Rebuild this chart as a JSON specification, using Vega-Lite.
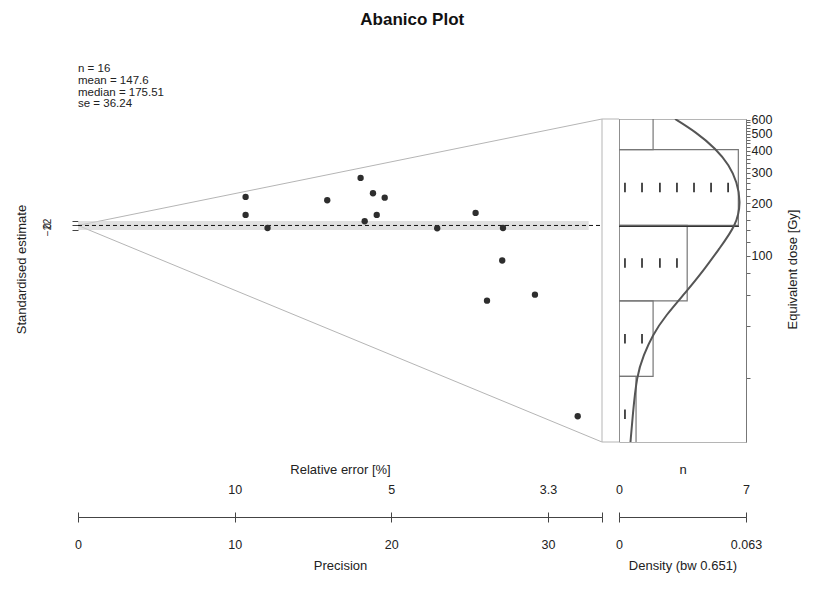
{
  "$schema": "https://vega.github.io/schema/vega-lite/v6.json",
  "background": "white",
  "padding": {"left": 15, "top": 11, "right": 5, "bottom": 5},
  "title": {"text": "Abanico Plot", "font": "Liberation Sans", "fontSize": 17, "fontWeight": "bold", "anchor": "middle", "offset": 34, "dx": 5, "color": "#111"},
  "config": {
    "view": {"stroke": null},
    "font": "Liberation Sans",
    "axis": {"labelFont": "Liberation Sans", "titleFont": "Liberation Sans", "labelFontSize": 12.5, "titleFontSize": 13, "titleFontWeight": "normal", "labelColor": "#222", "titleColor": "#222", "domainColor": "#444", "tickColor": "#444", "grid": false, "labelFlush": false, "labelOverlap": false, "labelBound": false}
  },
  "bounds": "flush",
  "spacing": 17,
  "hconcat": [
    {
      "width": 524,
      "height": 323,
      "title": {"text": ["n = 16", "mean = 147.6", "median = 175.51", "se = 36.24"], "anchor": "start", "frame": "group", "font": "Liberation Sans", "fontSize": 11.5, "fontWeight": "normal", "lineHeight": 11.8, "offset": 7, "color": "#222"},
      "layer": [
        {
          "data": {"values": [{"p": 0, "z": 0, "edge": "upper"}, {"p": 33.45, "z": 47.1, "edge": "upper"}, {"p": 0, "z": 0, "edge": "lower"}, {"p": 33.45, "z": -95.8, "edge": "lower"}]},
          "mark": {"type": "line", "color": "#b5b5b5", "strokeWidth": 1},
          "encoding": {
            "x": {"field": "p", "type": "quantitative", "scale": {"domain": [0, 33.45], "nice": false, "zero": false},
                  "axis": {"orient": "bottom", "offset": 75, "values": [0, 10, 20, 30, 33.45], "labelExpr": "datum.value > 33 ? '' : datum.label", "tickSize": 5, "labelPadding": 16, "title": "Precision", "titleY": 48, "titleBaseline": "middle"}},
            "y": {"field": "z", "type": "quantitative", "scale": {"domain": [-95.8, 47.1], "nice": false, "zero": false},
                  "axis": {"values": [-2, 0, 2], "domain": false, "tickSize": 6, "labelAngle": -90, "labelFontSize": 10, "labelPadding": 20, "title": "Standardised estimate", "titleX": -57, "titleY": 150, "titleAngle": -90, "titleBaseline": "middle"}},
            "detail": {"field": "edge"}
          }
        },
        {
          "data": {"values": [{"p": 33.45, "z": -95.8, "z2": 47.1}]},
          "mark": {"type": "rule", "color": "#b5b5b5", "strokeWidth": 1},
          "encoding": {
            "x": {"field": "p", "type": "quantitative", "scale": {"domain": [0, 33.45], "nice": false, "zero": false}, "axis": null},
            "y": {"field": "z", "type": "quantitative", "scale": {"domain": [-95.8, 47.1], "nice": false, "zero": false}, "axis": null},
            "y2": {"field": "z2"}
          }
        },
        {
          "data": {"values": [{"p": 33.45, "p2": 34.54, "z": 47.1}, {"p": 33.45, "p2": 34.54, "z": -95.8}]},
          "mark": {"type": "rule", "color": "#b5b5b5", "strokeWidth": 1},
          "encoding": {
            "x": {"field": "p", "type": "quantitative", "scale": {"domain": [0, 33.45], "nice": false, "zero": false}, "axis": null},
            "x2": {"field": "p2"},
            "y": {"field": "z", "type": "quantitative", "scale": {"domain": [-95.8, 47.1], "nice": false, "zero": false}, "axis": null}
          }
        },
        {
          "data": {"values": [{"p": 0, "p2": 32.6, "z": -2, "z2": 2}]},
          "mark": {"type": "rect", "color": "#cfcfcf", "opacity": 0.65},
          "encoding": {
            "x": {"field": "p", "type": "quantitative", "scale": {"domain": [0, 33.45], "nice": false, "zero": false}, "axis": null},
            "x2": {"field": "p2"},
            "y": {"field": "z", "type": "quantitative", "scale": {"domain": [-95.8, 47.1], "nice": false, "zero": false}, "axis": null},
            "y2": {"field": "z2"}
          }
        },
        {
          "data": {"values": [{"p": 0, "p2": 33.45, "z": 0}]},
          "mark": {"type": "rule", "color": "#111", "strokeWidth": 1, "strokeDash": [4, 3]},
          "encoding": {
            "x": {"field": "p", "type": "quantitative", "scale": {"domain": [0, 33.45], "nice": false, "zero": false}, "axis": null},
            "x2": {"field": "p2"},
            "y": {"field": "z", "type": "quantitative", "scale": {"domain": [-95.8, 47.1], "nice": false, "zero": false}, "axis": null}
          }
        },
        {
          "data": {"values": [
            {"p": 10.70, "z": 12.61}, {"p": 10.70, "z": 4.65}, {"p": 12.10, "z": -1.11}, {"p": 15.91, "z": 11.15},
            {"p": 18.04, "z": 21.02}, {"p": 18.83, "z": 14.25}, {"p": 19.58, "z": 12.30}, {"p": 19.07, "z": 4.65},
            {"p": 18.30, "z": 1.86}, {"p": 22.93, "z": -1.24}, {"p": 25.38, "z": 5.53}, {"p": 27.13, "z": -1.11},
            {"p": 27.08, "z": -15.49}, {"p": 26.11, "z": -33.27}, {"p": 29.17, "z": -30.62}, {"p": 31.90, "z": -84.42}
          ]},
          "mark": {"type": "point", "filled": true, "color": "#2e2e2e", "size": 40, "opacity": 1},
          "encoding": {
            "x": {"field": "p", "type": "quantitative", "scale": {"domain": [0, 33.45], "nice": false, "zero": false},
                  "axis": {"orient": "top", "offset": -398, "values": [0, 10, 20, 30, 33.45], "labelExpr": "datum.value == 10 ? '10' : datum.value == 20 ? '5' : datum.value == 30 ? '3.3' : ''", "tickSize": 5, "labelPadding": 16, "title": "Relative error [%]", "titleColor": "#222", "titleY": -48, "titleBaseline": "middle"}},
            "y": {"field": "z", "type": "quantitative", "scale": {"domain": [-95.8, 47.1], "nice": false, "zero": false}, "axis": null}
          }
        }
      ],
      "resolve": {"axis": {"x": "independent", "y": "independent"}}
    },
    {
      "width": 127,
      "height": 323,
      "view": {"stroke": "#b5b5b5"},
      "layer": [
        {
          "data": {"values": [
            {"lo": 404.9, "hi": 1094, "n": 2}, {"lo": 149.8, "hi": 404.9, "n": 7}, {"lo": 55.4, "hi": 149.8, "n": 4},
            {"lo": 20.5, "hi": 55.4, "n": 2}, {"lo": 7.58, "hi": 20.5, "n": 1}
          ]},
          "mark": {"type": "rect", "fill": "white", "fillOpacity": 0, "stroke": "#777", "strokeWidth": 1.2, "clip": true},
          "encoding": {
            "x": {"field": "n", "type": "quantitative", "scale": {"domain": [0, 7.45], "nice": false, "zero": false}, "axis": null},
            "x2": {"datum": 0},
            "y": {"field": "lo", "type": "quantitative", "scale": {"type": "log", "domain": [8.65, 606.6], "nice": false}, "axis": null},
            "y2": {"field": "hi"}
          }
        },
        {
          "data": {"values": [
            {"pos": 0.35, "dose": 246.3}, {"pos": 1.35, "dose": 246.3}, {"pos": 2.4, "dose": 246.3}, {"pos": 3.4, "dose": 246.3},
            {"pos": 4.4, "dose": 246.3}, {"pos": 5.4, "dose": 246.3}, {"pos": 6.4, "dose": 246.3},
            {"pos": 0.35, "dose": 91.1}, {"pos": 1.35, "dose": 91.1}, {"pos": 2.4, "dose": 91.1}, {"pos": 3.4, "dose": 91.1},
            {"pos": 0.35, "dose": 33.7}, {"pos": 1.35, "dose": 33.7},
            {"pos": 0.35, "dose": 12.46}
          ]},
          "mark": {"type": "point", "shape": "M0,-1L0,1", "size": 90, "filled": false, "color": "#222", "strokeWidth": 1.6, "opacity": 1},
          "encoding": {
            "x": {"field": "pos", "type": "quantitative", "scale": {"domain": [0, 7.45], "nice": false, "zero": false}, "axis": null},
            "y": {"field": "dose", "type": "quantitative", "scale": {"type": "log", "domain": [8.65, 606.6], "nice": false}, "axis": null}
          }
        },
        {
          "data": {"values": [{"d0": 0, "d1": 0.0595, "dose": 147.6}]},
          "mark": {"type": "rule", "color": "#333", "strokeWidth": 1.2},
          "encoding": {
            "x": {"field": "d0", "type": "quantitative", "scale": {"domain": [0, 0.063], "nice": false, "zero": false}, "axis": null},
            "x2": {"field": "d1"},
            "y": {"field": "dose", "type": "quantitative", "scale": {"type": "log", "domain": [8.65, 606.6], "nice": false}, "axis": null}
          }
        },
        {
          "data": {"values": [
            {"dose": 8.65, "dens": 0.0057}, {"dose": 12.3, "dens": 0.0068}, {"dose": 20.8, "dens": 0.0088}, {"dose": 27.1, "dens": 0.0122},
            {"dose": 35.3, "dens": 0.0166}, {"dose": 45.8, "dens": 0.0232}, {"dose": 62.2, "dens": 0.0332}, {"dose": 81.1, "dens": 0.0414},
            {"dose": 110, "dens": 0.0497}, {"dose": 150, "dens": 0.0582}, {"dose": 203, "dens": 0.0605}, {"dose": 265, "dens": 0.0585},
            {"dose": 330, "dens": 0.0547}, {"dose": 410, "dens": 0.0481}, {"dose": 511, "dens": 0.0381}, {"dose": 606.6, "dens": 0.0278}
          ]},
          "mark": {"type": "line", "color": "#555", "strokeWidth": 2, "interpolate": "basis", "clip": true},
          "encoding": {
            "x": {"field": "dens", "type": "quantitative", "scale": {"domain": [0, 0.063], "nice": false, "zero": false},
                  "axis": {"orient": "bottom", "offset": 75, "values": [0, 0.063], "labelExpr": "datum.value == 0 ? '0' : '0.063'", "tickSize": 5, "labelPadding": 16, "title": "Density (bw 0.651)", "titleY": 48, "titleBaseline": "middle"}},
            "y": {"field": "dose", "type": "quantitative", "scale": {"type": "log", "domain": [8.65, 606.6], "nice": false},
                  "axis": {"orient": "right", "values": [20, 40, 60, 80, 100, 120, 140, 160, 180, 200, 220, 240, 260, 280, 300, 320, 340, 360, 380, 400, 420, 440, 460, 480, 500, 520, 540, 560, 580, 600], "labelExpr": "datum.value % 100 == 0 ? datum.label : ''", "format": "d", "tickSize": 4, "labelPadding": 1, "domainColor": "#777", "tickColor": "#666", "title": "Equivalent dose [Gy]", "titleX": 46, "titleY": 150, "titleAngle": -90, "titleBaseline": "middle"}},
            "order": {"field": "dose", "type": "quantitative"}
          }
        },
        {
          "data": {"values": [{"n": 0}, {"n": 7}]},
          "mark": {"type": "point", "opacity": 0, "color": "#222"},
          "encoding": {
            "x": {"field": "n", "type": "quantitative", "scale": {"domain": [0, 7], "nice": false, "zero": false},
                  "axis": {"orient": "top", "offset": -398, "values": [0, 7], "tickSize": 5, "labelPadding": 16, "title": "n", "titleColor": "#222", "titleY": -48, "titleBaseline": "middle"}}
          }
        }
      ],
      "resolve": {"scale": {"x": "independent"}, "axis": {"x": "independent", "y": "independent"}}
    }
  ]
}
